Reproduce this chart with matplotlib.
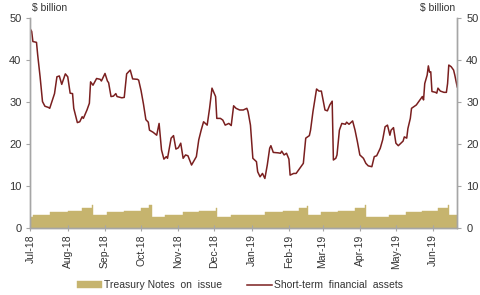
import numpy as np
import pandas as pd
import matplotlib
matplotlib.use('Agg')
import matplotlib.pyplot as plt
import matplotlib.dates as mdates

start = pd.Timestamp('2018-07-01')

# short-term financial assets, $ billion (days since 1 Jul 2018, value)
sfa_days = [0, 1, 2, 5, 6, 8, 10, 12, 15, 16, 20, 22, 24, 26, 29, 31, 33, 35, 36, 39,
            41, 43, 44, 47, 49, 50, 52, 55, 58, 59, 61, 62, 64, 65, 67, 69, 71, 72, 76, 78,
            80, 83, 85, 89, 90, 92, 94, 96, 98, 99, 102, 105, 107, 109, 111, 113, 114, 117, 119, 121,
            123, 125, 127, 129, 131, 134, 138, 140, 142, 144, 147, 149, 151, 154, 155, 158, 160, 162, 165, 167,
            169, 171, 174, 177, 180, 181, 183, 185, 188, 189, 191, 193, 195, 197, 199, 200, 202, 206, 208, 209,
            211, 213, 215, 216, 219, 221, 223, 227, 229, 232, 233, 235, 238, 240, 242, 245, 247, 249, 251, 252,
            254, 255, 257, 259, 262, 263, 265, 268, 270, 272, 274, 277, 279, 281, 284, 286, 288, 291, 293, 295,
            297, 299, 300, 302, 304, 306, 310, 311, 313, 314, 316, 317, 319, 321, 324, 326, 327, 328, 330, 331,
            332, 333, 334, 337, 338, 339, 341, 344, 346, 347, 348, 350, 352, 353, 355]
sfa_vals = [47.3, 46.8, 44.4, 44.2, 41.2, 36.0, 30.1, 29.0, 28.7, 28.5, 32.0, 36.0, 36.2, 34.2, 36.7, 36.0, 32.1, 32.0, 28.5, 25.1,
            25.3, 26.5, 26.1, 28.1, 29.7, 34.8, 34.0, 35.6, 35.4, 35.0, 36.2, 36.8, 35.0, 34.6, 31.3, 31.4, 32.0, 31.3, 31.0, 31.1,
            36.7, 37.6, 35.5, 35.4, 35.2, 32.7, 29.5, 25.8, 25.2, 23.3, 22.8, 22.1, 24.9, 18.6, 16.4, 17.0, 16.6, 21.4, 22.0, 18.8,
            19.1, 20.2, 16.6, 17.4, 17.2, 15.0, 17.0, 21.0, 23.3, 25.3, 24.5, 28.5, 33.3, 31.3, 26.1, 26.1, 25.7, 24.5, 24.9, 24.4,
            29.1, 28.5, 28.1, 28.1, 28.5, 27.7, 24.5, 16.6, 15.8, 13.4, 12.2, 13.0, 11.8, 15.0, 19.0, 19.6, 18.0, 17.9, 17.8, 18.3,
            17.4, 17.8, 16.4, 12.6, 13.0, 13.0, 13.8, 15.4, 21.4, 22.0, 23.3, 27.7, 33.1, 32.6, 32.6, 28.1, 27.9, 29.3, 30.2, 16.2,
            16.6, 17.4, 23.3, 24.9, 24.7, 25.2, 24.7, 25.5, 23.3, 20.5, 17.4, 16.6, 15.4, 14.8, 14.6, 17.0, 17.2, 19.0, 21.0, 24.1,
            24.5, 22.1, 23.3, 23.9, 20.2, 19.6, 20.7, 21.7, 21.4, 23.7, 26.1, 28.5, 28.9, 29.3, 30.5, 31.3, 30.5, 34.4, 36.4, 38.6,
            37.1, 37.2, 32.5, 32.3, 32.1, 33.3, 32.6, 32.3, 32.3, 34.4, 38.8, 38.4, 37.6, 36.4, 33.6]

# treasury notes on issue, $ billion (step changes)
tn_days = [0, 2, 16, 31, 43, 51, 52, 64, 78, 92, 99, 101, 112, 127, 140, 154, 155, 167, 195, 210,
           223, 230, 231, 242, 256, 270, 278, 279, 298, 312, 326, 339, 347, 348, 355]
tn_vals = [2.6, 3.0, 3.7, 4.1, 4.8, 5.5, 3.0, 3.7, 4.1, 4.8, 5.5, 2.6, 3.0, 3.7, 4.1, 4.7, 2.6, 3.0, 3.7, 4.1,
           4.8, 5.3, 3.0, 3.7, 4.1, 4.8, 5.5, 2.6, 3.0, 3.7, 4.1, 4.8, 5.5, 3.0, 3.0]

sfa_dates = start + pd.to_timedelta(sfa_days, unit='D')
tn_dates = start + pd.to_timedelta(tn_days, unit='D')

line_col = '#7a1f1f'
fill_col = '#c6b46e'
grey = '#a6a6a6'
txt = '#333333'

plt.rcParams['font.family'] = ['Liberation Sans', 'DejaVu Sans']

fig = plt.figure(figsize=(4.8, 2.95), dpi=100)
ax = fig.add_axes([0.0635, 0.227, 0.889, 0.712])

ax.fill_between(tn_dates, tn_vals, 0, step='post', color=fill_col, lw=0.3, ec=fill_col,
                label='Treasury Notes  on  issue')
ax.plot(sfa_dates, sfa_vals, color=line_col, lw=1.1, label='Short-term  financial  assets')

ax.set_xlim(start, sfa_dates[-1])
ax.set_ylim(0, 50)
ax.set_yticks([0, 10, 20, 30, 40, 50])

ax.xaxis.set_major_locator(mdates.MonthLocator())
ax.xaxis.set_major_formatter(mdates.DateFormatter('%b-%y'))
for lab in ax.get_xticklabels():
    lab.set_rotation(90)

ax2 = ax.twinx()
ax2.set_ylim(0, 50)
ax2.set_yticks([0, 10, 20, 30, 40, 50])

for a in (ax, ax2):
    a.spines['top'].set_visible(False)
    for s in ('left', 'right', 'bottom'):
        a.spines[s].set_color(grey)
        a.spines[s].set_linewidth(1.0)
    a.tick_params(axis='y', colors=grey, labelcolor=txt, labelsize=8, length=3, width=0.8)
ax.tick_params(axis='x', colors=grey, labelcolor=txt, labelsize=7.5, direction='inout',
               length=5, width=0.8, pad=2)

fig.text(0.066, 0.955, '$ billion', fontsize=7.5, color=txt, ha='left', va='bottom')
fig.text(0.948, 0.955, '$ billion', fontsize=7.5, color=txt, ha='right', va='bottom')

fig.legend(loc='lower center', bbox_to_anchor=(0.5, -0.015), ncol=2, frameon=False,
           fontsize=7.5, handlelength=2.4, handleheight=0.6, columnspacing=2.4,
           handletextpad=0.2, labelcolor=txt)

fig.savefig('out.png', dpi=100)
